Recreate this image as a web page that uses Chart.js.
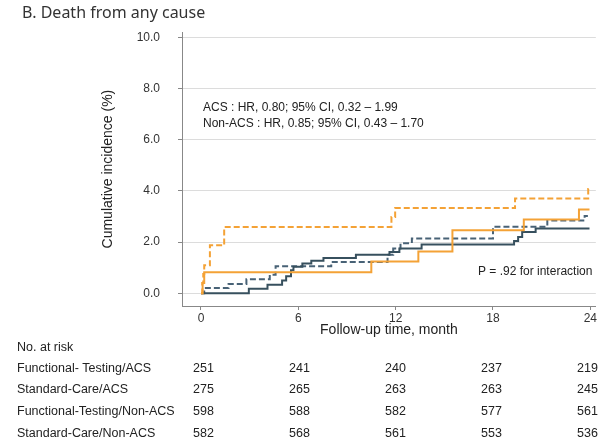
<!DOCTYPE html>
<html>
<head>
<meta charset="utf-8">
<script src="https://cdn.jsdelivr.net/npm/chart.js@4.4.0/dist/chart.umd.min.js"></script>
<style>
  html, body { margin: 0; padding: 0; background: #fff; }
  #wrap { width: 598px; height: 446px; }
</style>
</head>
<body>
<div id="wrap"><canvas id="kmChart" width="598" height="446"></canvas></div>
<script>
// step curves: time in months, cumulative incidence in %
const ftAcsTime = [0, 0.1, 0.2, 10.5, 13.4, 15.5, 19.9, 23.3, 23.95];
const ftAcsRisk = [0, 0.4, 0.82, 1.24, 1.63, 2.46, 2.88, 3.27, 3.27];

const scAcsTime = [0, 0.08, 0.14, 0.2, 0.55, 1.43, 11.74, 11.97, 19.36, 23.87, 23.9];
const scAcsRisk = [0, 0.4, 0.75, 1.09, 1.87, 2.59, 2.98, 3.33, 3.70, 4.07, 4.07];

const ftNonTime = [0, 2.95, 4.1, 5.0, 5.25, 5.55, 5.7, 6.25, 6.8, 7.55, 9.55, 11.62, 12.23, 13.6, 19.3, 19.55, 19.8, 20.63, 23.95];
const ftNonRisk = [0, 0.17, 0.33, 0.5, 0.66, 0.9, 1.03, 1.16, 1.27, 1.38, 1.5, 1.61, 1.75, 1.9, 2.04, 2.2, 2.39, 2.53, 2.53];

const scNonTime = [0, 0.2, 1.7, 2.8, 4.24, 4.6, 8.03, 11.5, 11.85, 12.3, 13.0, 18.0, 21.35, 23.65, 23.85];
const scNonRisk = [0, 0.2, 0.36, 0.55, 0.72, 1.05, 1.22, 1.5, 1.75, 1.95, 2.14, 2.6, 2.84, 3.02, 3.02];

const xTicks = [0, 6, 12, 18, 24];
const yTicks = [0, 2, 4, 6, 8, 10];

// number at risk table
const riskGroups = ['Functional- Testing/ACS', 'Standard-Care/ACS', 'Functional-Testing/Non-ACS', 'Standard-Care/Non-ACS'];
const riskFtAcs = [251, 241, 240, 237, 219];
const riskScAcs = [275, 265, 263, 263, 245];
const riskFtNon = [598, 588, 582, 577, 561];
const riskScNon = [582, 568, 561, 553, 536];

const toPoints = (t, v) => t.map((x, i) => ({ x: x, y: v[i] }));

const ORANGE = 'rgb(244, 162, 54)';
const SLATE = 'rgb(55, 80, 94)';
const SLATE2 = 'rgb(72, 98, 118)';

const textFont = '"Liberation Sans", Arial, sans-serif';

// extra text: HR notes, interaction p, and the risk table
const notesPlugin = {
    id: 'notes',
    afterDraw(chart) {
        const ctx = chart.ctx;
        ctx.save();
        ctx.fillStyle = '#222';
        ctx.textBaseline = 'middle';
        ctx.textAlign = 'left';
        ctx.font = '12px ' + textFont;
        ctx.fillText('ACS : HR, 0.80; 95% CI, 0.32 \u2013 1.99', 203, 107.5);
        ctx.fillText('Non-ACS : HR, 0.85; 95% CI, 0.43 \u2013 1.70', 203, 124);
        ctx.fillText('P = .92 for interaction', 478, 271.5);

        ctx.font = '12.5px ' + textFont;
        ctx.fillStyle = '#222';
        ctx.fillText('No. at risk', 17, 348);
        const rows = [riskFtAcs, riskScAcs, riskFtNon, riskScNon];
        const rowY = [369, 390, 412, 434];
        const colX = [193, 289, 385, 481, 577];
        rows.forEach((r, i) => {
            ctx.fillText(riskGroups[i], 17, rowY[i]);
            r.forEach((n, j) => ctx.fillText(String(n), colX[j], rowY[i]));
        });
        ctx.restore();
    }
};

const ctxKm = document.getElementById('kmChart');
const chart = new Chart(ctxKm, {
    type: 'line',
    data: {
        datasets: [
            { label: 'Functional-Testing/ACS', data: toPoints(ftAcsTime, ftAcsRisk), borderColor: ORANGE, borderWidth: 2 },
            { label: 'Standard-Care/ACS', data: toPoints(scAcsTime, scAcsRisk), borderColor: ORANGE, borderWidth: 2, borderDash: [6, 3] },
            { label: 'Functional-Testing/Non-ACS', data: toPoints(ftNonTime, ftNonRisk), borderColor: SLATE, borderWidth: 2 },
            { label: 'Standard-Care/Non-ACS', data: toPoints(scNonTime, scNonRisk), borderColor: SLATE2, borderWidth: 2, borderDash: [6, 3] }
        ]
    },
    options: {
        responsive: false,
        animation: false,
        parsing: false,
        elements: {
            line: { stepped: 'before', fill: false, borderCapStyle: 'butt' },
            point: { radius: 0 }
        },
        layout: { padding: { left: 22, right: 1, top: 0, bottom: 106 } },
        plugins: {
            legend: { display: false },
            tooltip: { enabled: false },
            title: {
                display: true,
                text: 'B. Death from any cause',
                align: 'start',
                color: '#333',
                font: { family: '"Noto Sans", sans-serif', size: 16, weight: 'normal' },
                padding: { top: 4, bottom: 9 }
            }
        },
        scales: {
            x: {
                type: 'linear',
                min: -1.17,
                max: 24.34,
                afterBuildTicks: (s) => { s.ticks = xTicks.map(v => ({ value: v })); },
                afterFit: (s) => { s.height = 34; },
                ticks: { color: '#333', font: { family: textFont, size: 12 }, padding: 1, maxRotation: 0 },
                grid: { drawOnChartArea: false, drawTicks: true, tickLength: 4, tickColor: '#888' },
                border: { color: '#888', width: 1 },
                title: {
                    display: true,
                    text: 'Follow-up time, month',
                    color: '#222',
                    font: { family: textFont, size: 14 },
                    padding: { top: 0, bottom: 1 }
                }
            },
            y: {
                min: -0.5,
                max: 10.2,
                afterBuildTicks: (s) => { s.ticks = yTicks.map(v => ({ value: v })); },
                afterFit: (s) => { s.width = 160; },
                ticks: {
                    color: '#333',
                    font: { family: textFont, size: 12 },
                    padding: 18,
                    callback: (v) => Number(v).toFixed(1)
                },
                grid: { color: '#dcdcdc', lineWidth: 1, drawTicks: true, tickLength: 4, tickColor: '#888' },
                border: { color: '#888', width: 1 },
                title: {
                    display: true,
                    text: 'Cumulative incidence (%)',
                    color: '#222',
                    font: { family: textFont, size: 14 },
                    padding: { top: 78, bottom: 0 }
                }
            }
        }
    },
    plugins: [notesPlugin]
});
</script>
</body>
</html>
